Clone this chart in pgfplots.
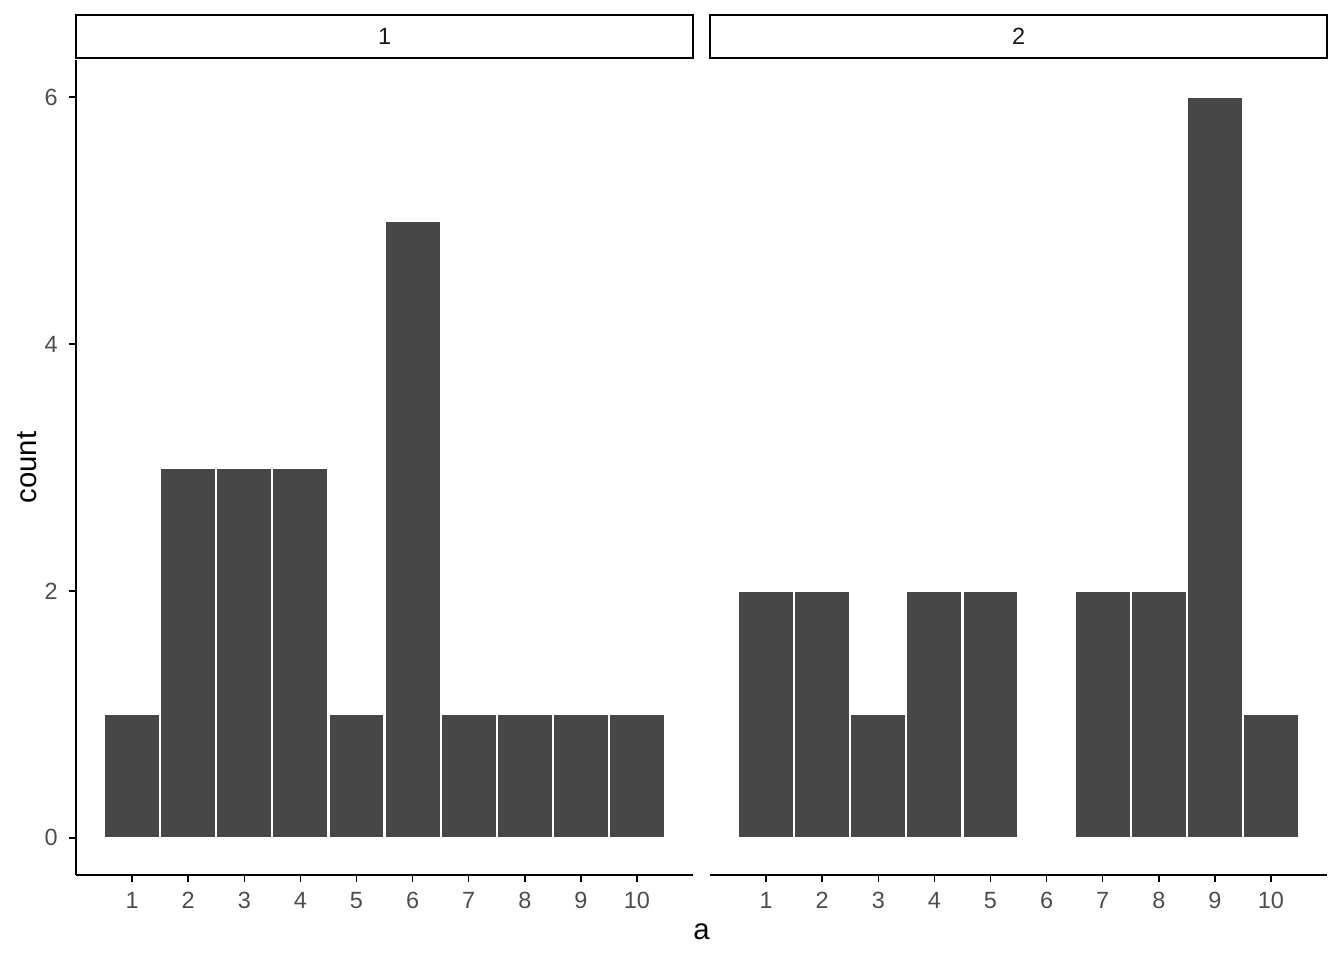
\documentclass[border=0pt]{standalone}
\usepackage{fontspec}
\setmainfont{Liberation Sans}
\usepackage{pgfplots}
\usepackage{pgfplotstable}
\pgfplotsset{compat=1.18}

\definecolor{barfill}{HTML}{474747}
\definecolor{ticktext}{HTML}{4D4D4D}
\definecolor{striptext}{HTML}{1A1A1A}

% counts per value of a, facet 1
\pgfplotstableread{
a count
1 1
2 3
3 3
4 3
5 1
6 5
7 1
8 1
9 1
10 1
}\facetone

% facet 2 (a = 6 has no observations)
\pgfplotstableread{
a count
1 2
2 2
3 1
4 2
5 2
7 2
8 2
9 6
10 1
}\facettwo

\pgfplotsset{
  facet/.style={
    scale only axis,
    width=231.4pt, height=305.6pt,
    anchor=south west,
    xmin=0, xmax=11, ymin=-0.3, ymax=6.3,
    xtick={1,...,10},
    ybar, bar width=1,
    tick align=outside,
    major tick length=2.75pt,
    tick style={black, line width=0.55pt},
    axis line style={-, black, line width=0.8pt},
    ticklabel style={font=\fontsize{8.8}{10}\selectfont, text=ticktext},
    /pgf/number format/assume math mode=true,
    xticklabel style={yshift=-0.3pt},
    yticklabel style={xshift=-0.6pt},
    clip=false,
  },
  bars/.style={fill=barfill, draw=white, line width=0.8pt},
}

\begin{document}
\begin{tikzpicture}
\path[use as bounding box] (0,0) rectangle (504pt,360pt);

\begin{axis}[facet, name=p1, at={(28.5pt,31.9pt)},
    axis x line*=bottom, axis y line*=left,
    ytick={0,2,4,6}]
  \addplot[bars] table[x=a, y=count] {\facetone};
\end{axis}

\begin{axis}[facet, name=p2, at={(266.25pt,31.9pt)},
    axis x line*=bottom, axis y line=none,
    ytick=\empty]
  \addplot[bars] table[x=a, y=count] {\facettwo};
\end{axis}

% facet strips
\foreach \p/\lab in {p1/1, p2/2} {
  \draw[black, line width=0.8pt, fill=white]
    ([yshift=0.75pt]\p.north west) rectangle ([yshift=16.9pt]\p.north east);
  \node[font=\fontsize{8.8}{10}\selectfont, text=striptext]
    at ([yshift=8.8pt]\p.north) {\lab};
}

% axis titles
\node[font=\fontsize{11}{13}\selectfont] at (263.1pt,10.5pt) {a};
\node[font=\fontsize{11}{13}\selectfont, rotate=90] at (10.1pt,184.7pt) {count};
\end{tikzpicture}
\end{document}
